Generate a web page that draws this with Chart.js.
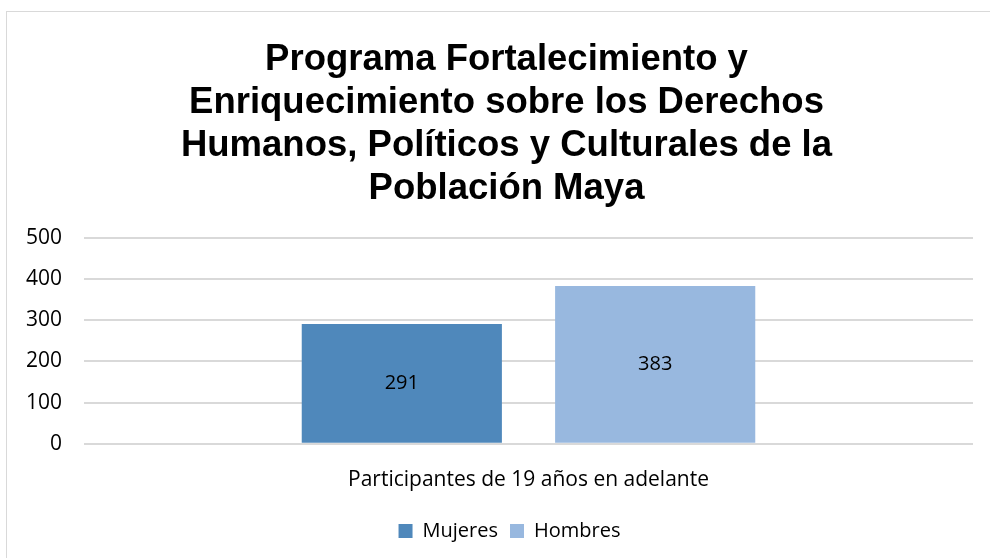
<!DOCTYPE html>
<html>
<head>
<meta charset="utf-8">
<script src="https://cdn.jsdelivr.net/npm/chart.js@4/dist/chart.umd.min.js"></script>
<style>
  html, body { margin: 0; padding: 0; background: #fff; overflow: hidden; }
  #frame { position: absolute; left: 6px; top: 11px; width: 1100px; height: 700px;
           border: 1px solid #d9d9d9; }
  #chart { position: absolute; left: 0; top: 0; }
</style>
</head>
<body>
<div id="frame"><canvas id="chart" width="1000" height="546"></canvas></div>
<script>
const titleLines = [
  'Programa Fortalecimiento y',
  'Enriquecimiento sobre los Derechos',
  'Humanos, Políticos y Culturales de la',
  'Población Maya'
];
const categories = ['Participantes de 19 años en adelante'];
const seriesNames = ['Mujeres', 'Hombres'];
const mujeres = [291];
const hombres = [383];
const yTicks = [0, 100, 200, 300, 400, 500];

const bodyFont = "'Open Sans', 'Liberation Sans', sans-serif";

// Writes each bar's value in the middle of the bar
const centerLabels = {
  id: 'centerLabels',
  afterDatasetsDraw(chart) {
    const ctx = chart.ctx;
    ctx.save();
    ctx.font = '20px ' + bodyFont;
    ctx.fillStyle = '#000';
    ctx.textAlign = 'center';
    ctx.textBaseline = 'middle';
    chart.data.datasets.forEach((ds, i) => {
      chart.getDatasetMeta(i).data.forEach((bar, j) => {
        const p = bar.getProps(['x', 'y', 'base'], true);
        ctx.fillText(String(ds.data[j]), p.x, (p.y + p.base) / 2);
      });
    });
    ctx.restore();
  }
};

// Centres the title and legend on the whole frame rather than between the layout paddings
const centreOnFrame = {
  id: 'centreOnFrame',
  afterLayout(chart) {
    const t = chart.titleBlock;
    if (t) { t.left += 7; t.right += 7; }
    const l = chart.legend;
    if (l) { l.left += 10; l.right += 10; }
  }
};

new Chart(document.getElementById('chart'), {
  type: 'bar',
  data: {
    labels: categories,
    datasets: [
      { label: seriesNames[0], data: mujeres, backgroundColor: '#4f88bb',
        barPercentage: 0.79, categoryPercentage: 0.57 },
      { label: seriesNames[1], data: hombres, backgroundColor: '#98b8df',
        barPercentage: 0.79, categoryPercentage: 0.57 }
    ]
  },
  options: {
    responsive: false,
    animation: false,
    events: [],
    layout: { padding: { left: 19, right: 34, top: 0, bottom: 7 } },
    plugins: {
      title: {
        display: true,
        text: titleLines,
        color: '#000',
        font: { family: "'Liberation Sans', Arial, sans-serif", size: 36.5, weight: 'bold', lineHeight: 1.17 },
        padding: { top: 27, bottom: 28 }
      },
      legend: {
        position: 'bottom',
        labels: {
          color: '#000',
          font: { family: bodyFont, size: 20 },
          boxWidth: 14, boxHeight: 14, padding: 12
        }
      },
      tooltip: { enabled: false }
    },
    scales: {
      x: {
        grid: { display: false },
        border: { display: false },
        ticks: { color: '#000', font: { family: bodyFont, size: 21 }, padding: 16, maxRotation: 0 },
        // the single centred label never needs extra room at the sides
        afterFit(scale) { scale.paddingLeft = 0; scale.paddingRight = 0; }
      },
      y: {
        min: 0, max: 500,
        afterBuildTicks(scale) { scale.ticks = yTicks.map(v => ({ value: v })); },
        afterFit(scale) { scale.width = 58; },
        grid: { color: '#d9d9d9', lineWidth: 2, drawTicks: false },
        border: { display: false },
        ticks: { color: '#000', font: { family: bodyFont, size: 21 }, padding: 22 }
      }
    }
  },
  plugins: [centerLabels, centreOnFrame]
});
</script>
</body>
</html>
